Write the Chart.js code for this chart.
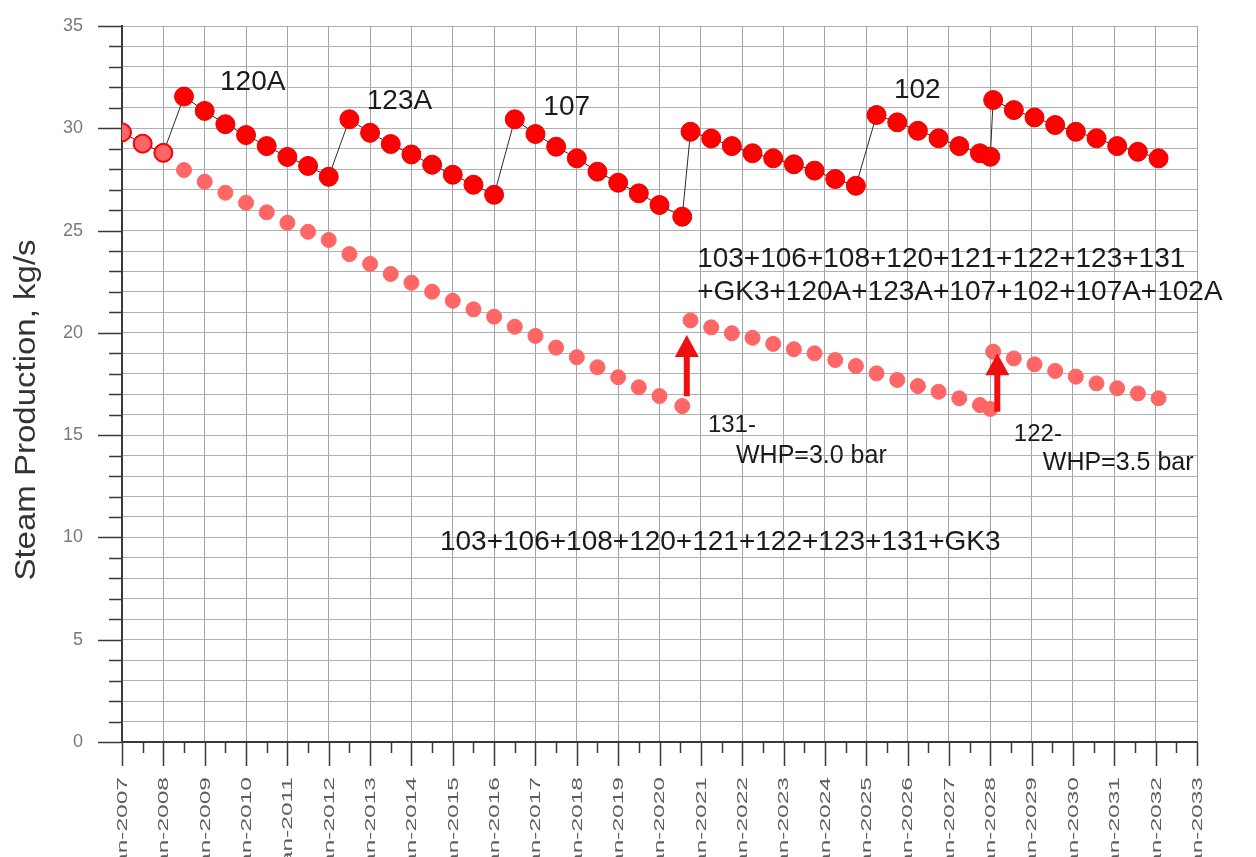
<!DOCTYPE html>
<html>
<head>
<meta charset="utf-8">
<script src="https://cdn.jsdelivr.net/npm/chart.js@4/dist/chart.umd.min.js"></script>
<style>
  html, body { margin: 0; padding: 0; background: #ffffff; }
  #wrap { width: 1256px; height: 857px; }
</style>
</head>
<body>
<div id="wrap"><canvas id="steam" width="1256" height="857"></canvas></div>
<script>
// Forecast dates (decimal years) shared by both scenarios
const years = [
  2007, 2007.5, 2008, 2008.5, 2009, 2009.5, 2010, 2010.5, 2011, 2011.5,
  2012, 2012.5, 2013, 2013.5, 2014, 2014.5, 2015, 2015.5, 2016, 2016.5,
  2017, 2017.5, 2018, 2018.5, 2019, 2019.5, 2020, 2020.55,
  2020.75, 2021.25, 2021.75, 2022.25, 2022.75, 2023.25, 2023.75, 2024.25,
  2024.75, 2025.25, 2025.75, 2026.25, 2026.75, 2027.25, 2027.75,
  2028.0,
  2028.07, 2028.57, 2029.07, 2029.57, 2030.07, 2030.57, 2031.07, 2031.57, 2032.07
];

// Steam production with make-up wells 120A, 123A, 107, 102 (+107A, 102A), kg/s
const withMakeUpWells = [
  29.8, 29.25, 28.8, 31.55, 30.85, 30.2, 29.67, 29.13, 28.6, 28.16,
  27.63, 30.44, 29.78, 29.23, 28.72, 28.22, 27.73, 27.24, 26.75, 30.44,
  29.72, 29.1, 28.53, 27.88, 27.34, 26.82, 26.25, 25.68,
  29.83, 29.5, 29.13, 28.78, 28.53, 28.24, 27.93, 27.52,
  27.19, 30.65, 30.29, 29.88, 29.51, 29.13, 28.78,
  28.61,
  31.38, 30.89, 30.53, 30.16, 29.83, 29.51, 29.13, 28.85, 28.53
];

// Steam production from the existing wells only, kg/s
const existingWells = [
  29.8, 29.25, 28.8, 27.96, 27.39, 26.85, 26.36, 25.89, 25.38, 24.94,
  24.54, 23.85, 23.37, 22.88, 22.45, 22.01, 21.57, 21.15, 20.79, 20.30,
  19.85, 19.28, 18.81, 18.32, 17.83, 17.34, 16.91, 16.42,
  20.61, 20.27, 19.98, 19.76, 19.46, 19.2, 19.0, 18.67,
  18.38, 18.02, 17.7, 17.4, 17.12, 16.8, 16.47,
  16.28,
  19.08, 18.75, 18.46, 18.14, 17.86, 17.53, 17.29, 17.04, 16.8
];

// Axis tick labels
const yearTicks = [2007, 2008, 2009, 2010, 2011, 2012, 2013, 2014, 2015, 2016, 2017, 2018, 2019,
                   2020, 2021, 2022, 2023, 2024, 2025, 2026, 2027, 2028, 2029, 2030, 2031, 2032, 2033];
const yearLabels = yearTicks.map(v => 'Jan-' + v);
const yTitle = 'Steam Production, kg/s';

// Text notes placed in data coordinates (year, kg/s)
const notes = [
  { text: '120A', x: 2009.37, y: 31.87, size: 28 },
  { text: '123A', x: 2012.92, y: 30.94, size: 28 },
  { text: '107',  x: 2017.19, y: 30.65, size: 28 },
  { text: '102',  x: 2025.67, y: 31.47, size: 28 },
  { text: '103+106+108+120+121+122+123+131', x: 2020.91, y: 23.22, size: 28 },
  { text: '+GK3+120A+123A+107+102+107A+102A', x: 2020.91, y: 21.61, size: 28 },
  { text: '131-', x: 2021.17, y: 15.15, size: 24 },
  { text: 'WHP=3.0 bar', x: 2021.85, y: 13.64, size: 25 },
  { text: '122-', x: 2028.57, y: 14.71, size: 24 },
  { text: 'WHP=3.5 bar', x: 2029.27, y: 13.30, size: 25 },
  { text: '103+106+108+120+121+122+123+131+GK3', x: 2014.69, y: 9.39, size: 28 }
];

// Pressure-change arrows (year, from kg/s, to kg/s)
const arrows = [
  { x: 2020.66, from: 16.9, to: 19.9 },
  { x: 2028.17, from: 16.15, to: 19.0 }
];

const FONT = "'Liberation Sans', Arial, sans-serif";

const decorations = {
  id: 'decorations',
  afterDatasetsDraw(chart) {
    const { ctx, scales: { x, y } } = chart;
    ctx.save();
    // arrows
    ctx.fillStyle = '#ee1010';
    arrows.forEach(a => {
      const px = x.getPixelForValue(a.x);
      const yBase = y.getPixelForValue(a.from);
      const yTip = y.getPixelForValue(a.to);
      const headH = 22, headW = 24, shaftW = 6;
      ctx.fillRect(px - shaftW / 2, yTip + headH - 1, shaftW, yBase - (yTip + headH - 1));
      ctx.beginPath();
      ctx.moveTo(px, yTip);
      ctx.lineTo(px - headW / 2, yTip + headH);
      ctx.lineTo(px + headW / 2, yTip + headH);
      ctx.closePath();
      ctx.fill();
    });
    // notes
    ctx.fillStyle = '#1a1a1a';
    ctx.textAlign = 'left';
    ctx.textBaseline = 'alphabetic';
    notes.forEach(n => {
      ctx.font = n.size + 'px ' + FONT;
      ctx.fillText(n.text, x.getPixelForValue(n.x), y.getPixelForValue(n.y));
    });
    ctx.restore();
  },
  afterDraw(chart) {
    const { ctx, scales: { x, y }, chartArea } = chart;
    ctx.save();
    ctx.strokeStyle = '#3a3a3a';
    ctx.lineWidth = 1.5;
    // y tick marks: long at every 5, short at every unit
    for (let v = 0; v <= 35; v++) {
      const py = Math.round(y.getPixelForValue(v)) + 0.5;
      const len = v % 5 === 0 ? 24 : 13;
      ctx.beginPath();
      ctx.moveTo(chartArea.left - len, py);
      ctx.lineTo(chartArea.left, py);
      ctx.stroke();
    }
    // x tick marks: long at each January, short at mid-year
    x.ticks.forEach(t => {
      const px = Math.round(x.getPixelForValue(t.value)) + 0.5;
      const len = Number.isInteger(t.value) ? 24 : 11;
      ctx.beginPath();
      ctx.moveTo(px, chartArea.bottom);
      ctx.lineTo(px, chartArea.bottom + len);
      ctx.stroke();
    });
    // rotated x labels
    ctx.fillStyle = '#5e5e5e';
    ctx.font = '14px ' + FONT;
    ctx.textAlign = 'right';
    ctx.textBaseline = 'middle';
    yearTicks.forEach((v, i) => {
      const px = x.getPixelForValue(v);
      ctx.save();
      ctx.translate(px + 1, chartArea.bottom + 35);
      ctx.rotate(-Math.PI / 2);
      ctx.scale(1.75, 1);
      ctx.fillText(yearLabels[i], 0, 0);
      ctx.restore();
    });
    // y axis title
    ctx.fillStyle = '#333333';
    ctx.font = '30px ' + FONT;
    ctx.textAlign = 'center';
    ctx.textBaseline = 'middle';
    ctx.translate(27, 410);
    ctx.rotate(-Math.PI / 2);
    ctx.scale(1.1, 1);
    ctx.fillText(yTitle, 0, 0);
    ctx.restore();
  }
};

const toPoints = vals => years.map((yr, i) => ({ x: yr, y: vals[i] }));

new Chart(document.getElementById('steam'), {
  type: 'scatter',
  data: {
    datasets: [
      {
        label: 'With make-up wells',
        data: toPoints(withMakeUpWells),
        order: 1,
        showLine: true,
        borderColor: '#2a2a2a',
        borderWidth: 1,
        pointRadius: 9.5,
        pointBackgroundColor: '#ff0000',
        pointBorderColor: '#e80000',
        pointBorderWidth: 1
      },
      {
        label: 'Existing wells',
        data: toPoints(existingWells),
        order: 0,
        showLine: false,
        pointRadius: 7.5,
        pointBackgroundColor: '#ff6666',
        pointBorderColor: '#ff6464',
        pointBorderWidth: 1
      }
    ]
  },
  options: {
    responsive: false,
    animation: false,
    devicePixelRatio: 1,
    events: [],
    layout: { autoPadding: false, padding: { top: 26, right: 59, left: 0, bottom: 0 } },
    plugins: { legend: { display: false }, tooltip: { enabled: false }, title: { display: false } },
    scales: {
      x: {
        type: 'linear',
        min: 2007,
        max: 2033,
        afterFit: s => { s.height = 115; s.paddingLeft = 0; s.paddingRight = 0; },
        ticks: { stepSize: 0.5, display: false, autoSkip: false },
        grid: {
          drawTicks: false,
          color: c => Number.isInteger(c.tick.value) ? '#a3a3a3' : 'rgba(0,0,0,0)',
          lineWidth: 1
        },
        border: { display: true, color: '#3a3a3a', width: 2 }
      },
      y: {
        min: 0,
        max: 35,
        afterFit: s => { s.width = 122; s.paddingTop = 0; s.paddingBottom = 0; },
        ticks: {
          stepSize: 1,
          autoSkip: false,
          padding: 39,
          color: '#7a7a7a',
          font: { family: FONT, size: 18 },
          callback: v => (v % 5 === 0 ? String(v) : '')
        },
        grid: { drawTicks: false, color: '#b0b0b0', lineWidth: 1 },
        border: { display: true, color: '#3a3a3a', width: 2 }
      }
    }
  },
  plugins: [decorations]
});
</script>
</body>
</html>
